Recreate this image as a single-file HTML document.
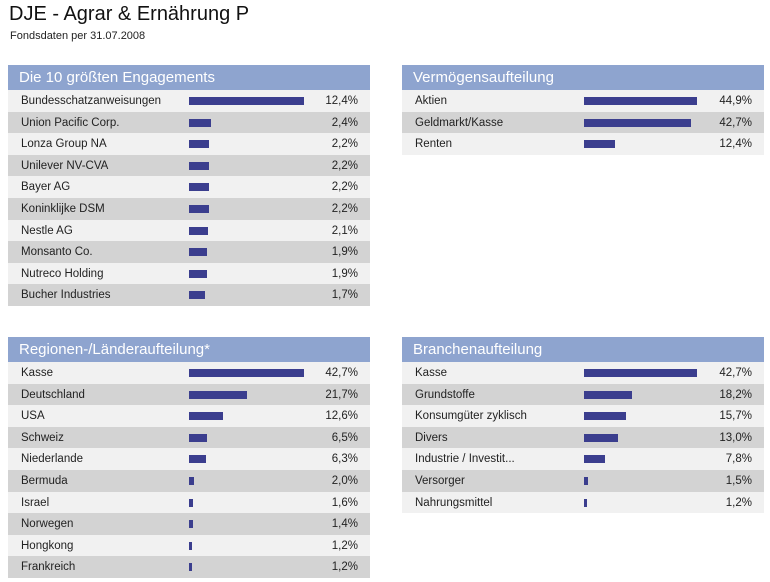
<!DOCTYPE html>
<html><head><meta charset="utf-8"><style>
body{margin:0;width:770px;height:582px;background:#fff;font-family:"Liberation Sans",Arial,sans-serif;position:relative;overflow:hidden}
.t{position:absolute;left:9px;top:3px;font-size:20px;color:#111}
.s{position:absolute;left:10px;top:30px;font-size:11px;color:#222}
.p{position:absolute;width:362px}
.h{height:25px;background:#8ea4cf;color:#fff;font-size:15px;line-height:26px;padding-left:11px;box-sizing:border-box}
.r{position:relative;height:21.6px;font-size:11.5px;color:#222;line-height:23px}
.r:nth-child(odd){background:#f1f1f1}.r:nth-child(even){background:#d3d3d3}
.l{position:absolute;left:13px}.v{position:absolute;right:12px}
.b{position:absolute;top:7px;height:8px;background:#3b3e8e}
</style></head><body>
<div class="t">DJE - Agrar &amp; Ernährung P</div>
<div class="s">Fondsdaten per 31.07.2008</div>
<div id="root"></div>
<script>
const topLabels=["Bundesschatzanweisungen","Union Pacific Corp.","Lonza Group NA","Unilever NV-CVA","Bayer AG","Koninklijke DSM","Nestle AG","Monsanto Co.","Nutreco Holding","Bucher Industries"];
const topValues=[12.4,2.4,2.2,2.2,2.2,2.2,2.1,1.9,1.9,1.7];
const assetLabels=["Aktien","Geldmarkt/Kasse","Renten"];
const assetValues=[44.9,42.7,12.4];
const regionLabels=["Kasse","Deutschland","USA","Schweiz","Niederlande","Bermuda","Israel","Norwegen","Hongkong","Frankreich"];
const regionValues=[42.7,21.7,12.6,6.5,6.3,2.0,1.6,1.4,1.2,1.2];
const sectorLabels=["Kasse","Grundstoffe","Konsumgüter zyklisch","Divers","Industrie / Investit...","Versorger","Nahrungsmittel"];
const sectorValues=[42.7,18.2,15.7,13.0,7.8,1.5,1.2];
const panels=[
 {name:"top-holdings-panel",title:"Die 10 größten Engagements",x:8,y:65,labels:topLabels,values:topValues,bx:181,bw:115},
 {name:"asset-allocation-panel",title:"Vermögensaufteilung",x:402,y:65,labels:assetLabels,values:assetValues,bx:182,bw:113},
 {name:"region-panel",title:"Regionen-/Länderaufteilung*",x:8,y:337,labels:regionLabels,values:regionValues,bx:181,bw:115},
 {name:"sector-panel",title:"Branchenaufteilung",x:402,y:337,labels:sectorLabels,values:sectorValues,bx:182,bw:113}
];
const root=document.getElementById('root');
panels.forEach(p=>{
 const d=document.createElement('div');d.className='p';d.style.left=p.x+'px';d.style.top=p.y+'px';
 
 
 const h=document.createElement('div');h.className='h';h.textContent=p.title;
 
 
 d.appendChild(h);
 const rows=document.createElement('div');
 const max=Math.max(...p.values);
 p.labels.forEach((lab,i)=>{
  const r=document.createElement('div');r.className='r';
  
  
  const l=document.createElement('span');l.className='l';l.textContent=lab;
  
  
  const b=document.createElement('div');b.className='b';b.style.left=p.bx+'px';b.style.width=(p.values[i]/max*p.bw)+'px';
  
  
  const v=document.createElement('span');v.className='v';v.textContent=p.values[i].toFixed(1).replace('.',',')+'%';
  
  
  r.appendChild(l);r.appendChild(b);r.appendChild(v);rows.appendChild(r);
 });
 d.appendChild(rows);root.appendChild(d);
});
</script>
</body></html>
